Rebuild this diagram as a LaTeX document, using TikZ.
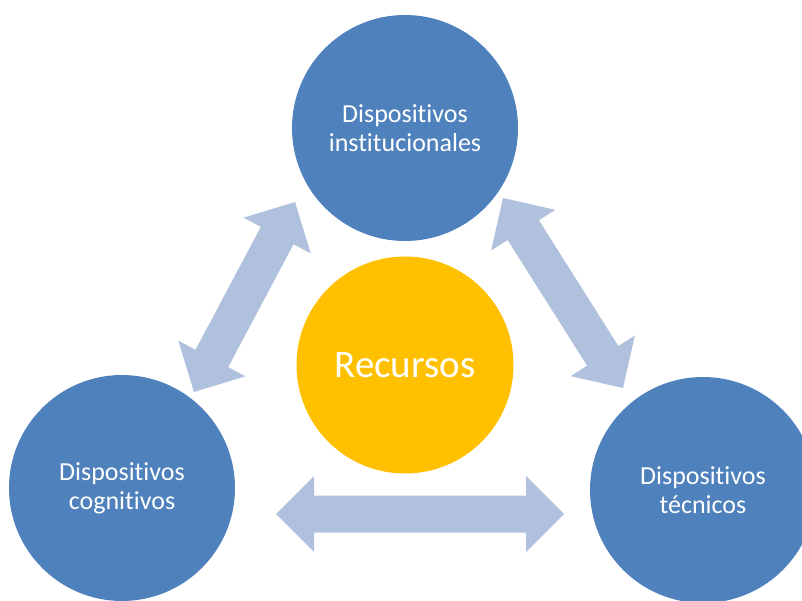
\documentclass[tikz,border=0pt]{standalone}
\usepackage{fontspec}
\setmainfont{Carlito}[Ligatures=NoCommon]
\usetikzlibrary{calc}
\definecolor{blueC}{RGB}{79,129,189}
\definecolor{orangeC}{RGB}{255,192,0}
\definecolor{arrowC}{RGB}{176,193,221}
\tikzset{
  bluecirc/.style={circle, fill=blueC, draw=none, minimum size=226pt, inner sep=0pt,
    text=white, align=center, font=\fontsize{26}{28.6}\selectfont},
  orangecirc/.style={circle, fill=orangeC, draw=none, minimum size=217pt, inner sep=0pt,
    text=white, align=center, font=\fontsize{39}{42}\selectfont},
  arrowfill/.style={fill=arrowC, draw=none}
}
\newcommand\blockarrow[2]{%
  \coordinate (#1-h) at ($(#1)!38pt!(#2)$);
  \coordinate (#2-h) at ($(#2)!38pt!(#1)$);
  \fill[arrowfill] (#1) -- ($(#1-h)!38pt!90:(#2)$) -- ($(#1-h)!18.5pt!90:(#2)$)
    -- ($(#2-h)!18.5pt!-90:(#1)$) -- ($(#2-h)!38pt!-90:(#1)$) -- (#2)
    -- ($(#2-h)!38pt!90:(#1)$) -- ($(#2-h)!18.5pt!90:(#1)$)
    -- ($(#1-h)!18.5pt!-90:(#2)$) -- ($(#1-h)!38pt!-90:(#2)$) -- cycle;}
\begin{document}
\begin{tikzpicture}[x=1pt,y=-1pt]
\useasboundingbox (0,0) rectangle (802,601);
\clip (0,0) rectangle (802,601);
% arrow end points
\coordinate (bl) at (276,514);
\coordinate (br) at (564,514);
\coordinate (lt) at (295,202);
\coordinate (lb) at (194,392);
\coordinate (rt) at (503,198);
\coordinate (rb) at (623,388);
\blockarrow{bl}{br}
\blockarrow{lt}{lb}
\blockarrow{rt}{rb}
% circles
\node[bluecirc] (inst) at (405,128) {Dispositivos\\institucionales};
\node[bluecirc] (cogn) at (122,488) {Dispositivos\\cognitivos};
\node[bluecirc] (tecn) at (703,490) {Dispositivos\\técnicos};
\node[orangecirc] (rec) at (405,365) {Recursos};
\end{tikzpicture}
\end{document}
